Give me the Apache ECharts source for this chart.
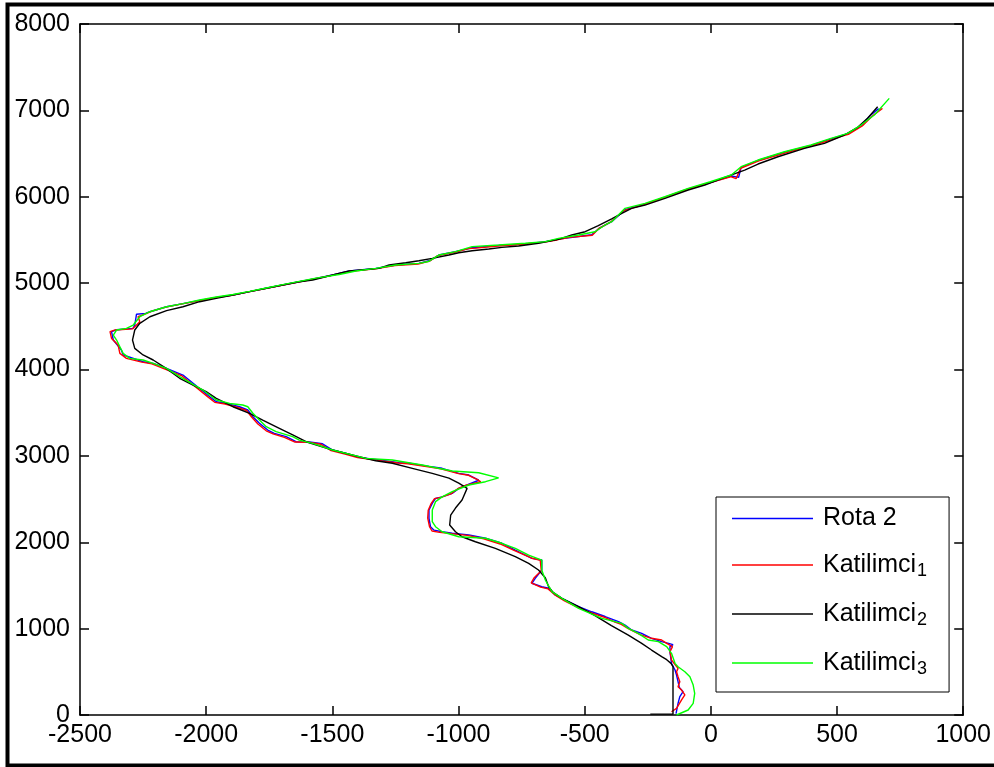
<!DOCTYPE html>
<html>
<head>
<meta charset="utf-8">
<script src="https://cdn.jsdelivr.net/npm/echarts@6/dist/echarts.min.js"></script>
<style>
html,body{margin:0;padding:0;background:#fff;}
#chart{width:994px;height:767px;}
</style>
</head>
<body>
<div id="chart"></div>
<script>
// Series names
const seriesNames = ['Rota 2', 'Katilimci1', 'Katilimci2', 'Katilimci3'];

// Axis tick settings
const xTicks = { min: -2500, max: 1000, step: 500 };
const yTicks = { min: 0, max: 8000, step: 1000 };

// Rota 2 (blue) [x, y]
const rota2 = [
  [-138,15],[-130,135],[-123,212],[-110,270],[-125,320],[-130,386],[-136,463],[-142,521],[-156,598],[-162,733],
  [-162,791],[-150,815],[-175,835],[-195,849],[-235,888],[-274,945],[-314,984],[-340,1040],[-366,1080],[-419,1140],
  [-472,1195],[-524,1255],[-577,1330],[-617,1390],[-643,1467],[-670,1485],[-709,1525],[-696,1583],[-670,1679],[-670,1794],
  [-709,1814],[-775,1910],[-828,1988],[-893,2046],[-959,2085],[-1025,2105],[-1065,2122],[-1097,2140],[-1111,2180],[-1117,2277],
  [-1117,2373],[-1104,2449],[-1091,2507],[-1065,2526],[-1025,2565],[-999,2624],[-966,2663],[-920,2718],[-959,2778],[-999,2798],
  [-1065,2856],[-1117,2878],[-1196,2914],[-1236,2921],[-1315,2952],[-1394,2983],[-1446,3029],[-1499,3068],[-1539,3140],[-1591,3160],
  [-1644,3164],[-1683,3222],[-1730,3261],[-1756,3299],[-1789,3377],[-1815,3454],[-1835,3531],[-1868,3569],[-1921,3607],[-1960,3627],
  [-1986,3685],[-2026,3780],[-2092,3936],[-2157,4013],[-2210,4071],[-2250,4090],[-2329,4168],[-2336,4226],[-2368,4341],[-2375,4438],
  [-2355,4460],[-2290,4476],[-2283,4515],[-2276,4640],[-2240,4650],[-2223,4669],[-2157,4727],[-2092,4763],[-2026,4800],[-1960,4835],
  [-1894,4862],[-1828,4901],[-1762,4940],[-1697,4978],[-1631,5016],[-1565,5055],[-1499,5094],[-1433,5140],[-1328,5171],[-1249,5210],
  [-1157,5229],[-1110,5265],[-1078,5325],[-1012,5364],[-946,5410],[-841,5435],[-735,5455],[-656,5480],[-604,5510],[-524,5540],
  [-472,5560],[-440,5640],[-393,5711],[-340,5850],[-261,5915],[-182,5995],[-90,6090],[-2,6165],[81,6240],[110,6225],
  [120,6340],[187,6420],[292,6515],[397,6595],[476,6670],[542,6730],[595,6825],[634,6946],[665,7020]
];

// Katilimci1 (red) [x, y]
const katilimci1 = [
  [-156,38],[-136,77],[-116,174],[-103,232],[-116,289],[-130,328],[-123,386],[-130,443],[-136,501],[-130,540],
  [-156,637],[-162,733],[-152,791],[-175,830],[-195,868],[-235,888],[-280,930],[-327,1000],[-355,1050],[-380,1075],
  [-425,1135],[-470,1180],[-530,1250],[-580,1320],[-615,1385],[-645,1460],[-675,1480],[-712,1530],[-700,1590],[-672,1670],
  [-676,1790],[-712,1818],[-780,1905],[-835,1980],[-900,2040],[-965,2080],[-1030,2100],[-1075,2115],[-1105,2130],[-1115,2180],
  [-1122,2280],[-1120,2370],[-1108,2450],[-1095,2505],[-1070,2520],[-1030,2560],[-1003,2620],[-970,2660],[-912,2700],[-925,2725],
  [-960,2775],[-1000,2795],[-1070,2850],[-1120,2872],[-1200,2908],[-1240,2918],[-1320,2948],[-1400,2980],[-1450,3022],[-1505,3060],
  [-1545,3135],[-1595,3158],[-1648,3160],[-1690,3215],[-1735,3255],[-1762,3290],[-1795,3370],[-1820,3450],[-1840,3525],[-1875,3560],
  [-1925,3600],[-1966,3620],[-1992,3680],[-2032,3775],[-2098,3930],[-2163,4005],[-2215,4065],[-2255,4085],[-2316,4129],[-2342,4187],
  [-2349,4283],[-2375,4360],[-2381,4438],[-2360,4458],[-2292,4470],[-2263,4553],[-2270,4611],[-2240,4645],[-2215,4675],[-2160,4722],
  [-2095,4760],[-2030,4795],[-1965,4830],[-1898,4858],[-1832,4898],[-1765,4936],[-1700,4975],[-1635,5012],[-1568,5050],[-1502,5090],
  [-1436,5135],[-1330,5165],[-1252,5204],[-1160,5222],[-1115,5255],[-1082,5318],[-1015,5358],[-960,5400],[-930,5405],[-845,5430],
  [-760,5448],[-660,5475],[-610,5500],[-560,5530],[-470,5555],[-445,5630],[-398,5705],[-345,5840],[-265,5908],[-186,5990],
  [-94,6084],[-6,6160],[78,6232],[100,6210],[118,6330],[190,6415],[296,6508],[400,6590],[480,6662],[516,6700],
  [545,6722],[600,6820],[640,6935],[680,7023]
];

// Katilimci2 (black) [x, y]
const katilimci2 = [
  [-240,10],[-150,10],[-150,300],[-150,560],[-158,598],[-175,640],[-195,675],[-235,752],[-274,830],[-327,925],
  [-394,1035],[-459,1150],[-524,1254],[-590,1350],[-625,1420],[-643,1485],[-656,1590],[-683,1679],[-722,1756],[-775,1833],
  [-854,1930],[-933,2006],[-986,2064],[-1012,2122],[-1035,2200],[-1031,2315],[-1012,2396],[-986,2489],[-966,2624],[-999,2684],
  [-1038,2742],[-1104,2798],[-1183,2856],[-1262,2914],[-1328,2944],[-1394,2990],[-1499,3068],[-1604,3164],[-1657,3242],[-1710,3319],
  [-1776,3415],[-1828,3493],[-1894,3569],[-1960,3666],[-2000,3743],[-2052,3820],[-2105,3898],[-2157,4010],[-2210,4110],[-2250,4168],
  [-2283,4245],[-2292,4341],[-2283,4457],[-2263,4535],[-2223,4611],[-2157,4681],[-2092,4727],[-2026,4785],[-1960,4824],[-1894,4862],
  [-1828,4901],[-1762,4940],[-1697,4978],[-1631,5016],[-1578,5036],[-1499,5094],[-1433,5140],[-1315,5171],[-1275,5210],[-1209,5236],
  [-1157,5259],[-1104,5287],[-1038,5325],[-999,5352],[-946,5375],[-880,5395],[-828,5414],[-762,5430],[-683,5461],[-604,5507],
  [-551,5557],[-498,5595],[-446,5665],[-393,5745],[-353,5808],[-314,5866],[-261,5904],[-182,5982],[-90,6078],[-24,6136],
  [55,6225],[134,6309],[187,6379],[266,6463],[371,6561],[450,6618],[529,6715],[582,6804],[621,6908],[661,7042]
];

// Katilimci3 (green) [x, y]
const katilimci3 = [
  [-136,0],[-90,58],[-70,135],[-64,251],[-70,347],[-83,443],[-103,501],[-130,559],[-142,598],[-156,714],
  [-175,791],[-208,849],[-248,868],[-288,945],[-327,1003],[-353,1061],[-432,1119],[-524,1235],[-590,1351],[-630,1428],
  [-656,1563],[-670,1679],[-670,1794],[-722,1852],[-775,1930],[-828,1988],[-893,2046],[-999,2064],[-1065,2122],[-1091,2180],
  [-1104,2238],[-1104,2373],[-1091,2470],[-1065,2526],[-1025,2585],[-959,2663],[-893,2701],[-841,2745],[-920,2805],[-1025,2825],
  [-1144,2894],[-1262,2952],[-1367,2971],[-1499,3068],[-1578,3145],[-1631,3183],[-1657,3222],[-1723,3280],[-1762,3338],[-1789,3415],
  [-1815,3493],[-1835,3569],[-1855,3589],[-1907,3607],[-1960,3647],[-2013,3762],[-2105,3917],[-2157,4013],[-2210,4071],[-2250,4110],
  [-2303,4129],[-2329,4187],[-2342,4264],[-2355,4341],[-2368,4399],[-2355,4457],[-2316,4476],[-2289,4515],[-2263,4611],[-2223,4669],
  [-2157,4727],[-2092,4763],[-2026,4805],[-1960,4840],[-1894,4868],[-1828,4905],[-1762,4944],[-1697,4982],[-1631,5020],[-1565,5058],
  [-1473,5100],[-1407,5140],[-1328,5171],[-1249,5210],[-1157,5229],[-1120,5250],[-1078,5325],[-1012,5364],[-946,5422],[-841,5441],
  [-735,5461],[-656,5480],[-604,5518],[-524,5557],[-459,5595],[-419,5673],[-393,5711],[-340,5866],[-261,5923],[-182,6000],
  [-90,6097],[-2,6174],[81,6252],[120,6348],[187,6425],[292,6521],[397,6599],[476,6676],[542,6733],[595,6830],
  [648,6946],[707,7139]
];

const seriesData = [rota2, katilimci1, katilimci2, katilimci3];
const seriesColors = ['#0000ff', '#ff0000', '#000000', '#00ff00'];

const FONT = 'Liberation Sans, Arial, sans-serif';
const chart = echarts.init(document.getElementById('chart'), null, { renderer: 'canvas' });

function axisBase(extra) {
  return Object.assign({
    type: 'value',
    axisLine: { show: true, onZero: false, lineStyle: { color: '#000', width: 1.5 } },
    axisTick: { show: true, inside: true, length: 9, lineStyle: { color: '#000', width: 1.5 } },
    splitLine: { show: false }
  }, extra);
}

const option = {
  animation: false,
  backgroundColor: '#fff',
  grid: { left: 80, top: 24, width: 886, height: 691, containLabel: false },
  xAxis: [
    axisBase({ position: 'bottom', min: xTicks.min, max: xTicks.max, interval: xTicks.step,
      axisLabel: { fontSize: 25, color: '#000', margin: 8, fontFamily: FONT, formatter: v => String(v) } }),
    axisBase({ position: 'top', min: xTicks.min, max: xTicks.max, interval: xTicks.step, axisLabel: { show: false } })
  ],
  yAxis: [
    axisBase({ position: 'left', min: yTicks.min, max: yTicks.max, interval: yTicks.step,
      axisLabel: { fontSize: 25, color: '#000', margin: 10, fontFamily: FONT, formatter: v => String(v) } }),
    axisBase({ position: 'right', min: yTicks.min, max: yTicks.max, interval: yTicks.step, axisLabel: { show: false } })
  ],
  legend: {
    data: seriesNames.map(n => ({ name: n, icon: 'rect' })),
    orient: 'vertical',
    left: 716,
    top: 497,
    padding: [9, 22, 14, 16],
    itemGap: 5,
    itemWidth: 81,
    itemHeight: 1.5,
    selectedMode: false,
    borderColor: '#000',
    borderWidth: 1,
    backgroundColor: '#fff',
    formatter: function (name) {
      const m = name.match(/^(Katilimci)(\d)$/);
      if (m) return '{m|' + m[1] + '}{s|' + m[2] + '}';
      return '{m|' + name + '}';
    },
    textStyle: {
      color: '#000',
      fontFamily: FONT,
      rich: {
        m: { fontSize: 25, lineHeight: 30, fontFamily: FONT, color: '#000', verticalAlign: 'middle', padding: [0, 0, 0, 5] },
        s: { fontSize: 18, lineHeight: 18, fontFamily: FONT, color: '#000', verticalAlign: 'bottom', padding: [26, 0, 0, 1] }
      }
    }
  },
  graphic: [{
    type: 'rect',
    left: 5, top: 2,
    shape: { x: 0, y: 0, width: 1000, height: 761 },
    style: { fill: 'none', stroke: '#000', lineWidth: 4 },
    silent: true,
    z: 100
  }],
  series: seriesNames.map((name, i) => ({
    name: name,
    type: 'line',
    xAxisIndex: 0,
    yAxisIndex: 0,
    data: seriesData[i],
    symbol: 'none',
    showSymbol: false,
    smooth: false,
    lineStyle: { color: seriesColors[i], width: 1.4 },
    itemStyle: { color: seriesColors[i] },
    z: 2 + i
  }))
};

chart.setOption(option);
</script>
</body>
</html>
